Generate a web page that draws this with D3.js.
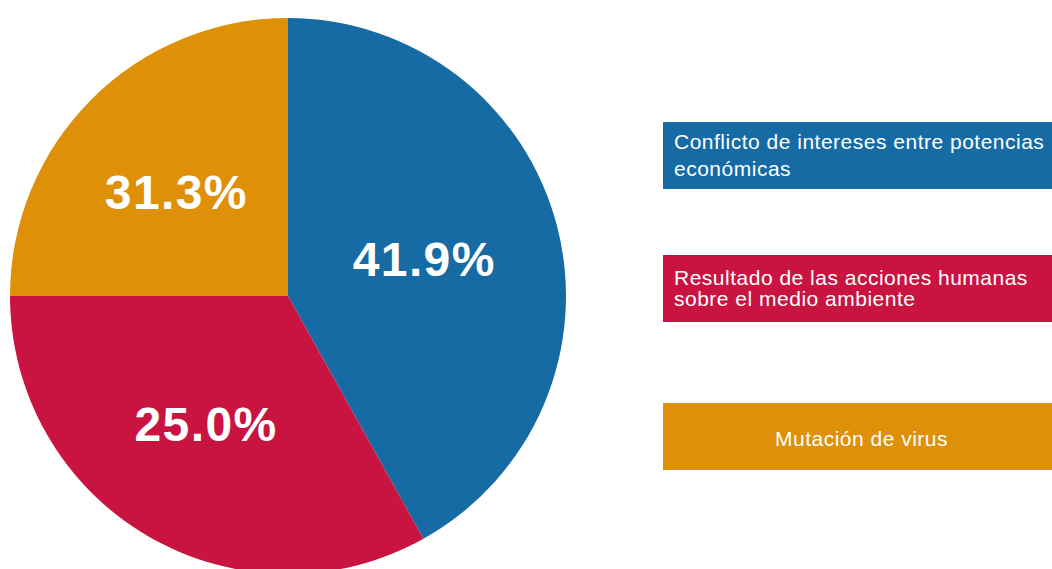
<!DOCTYPE html>
<html>
<head>
<meta charset="utf-8">
<script src="https://cdn.jsdelivr.net/npm/d3@7"></script>
<style>
  html, body { margin: 0; padding: 0; background: #fff; overflow: hidden; }
  svg { display: block; }
</style>
</head>
<body>
<div class="chart"></div>
<script>
// categories, shares and the printed labels
var categories = ['Conflicto de intereses entre potencias económicas',
                  'Resultado de las acciones humanas sobre el medio ambiente',
                  'Mutación de virus'];
var shares = [41.9, 33.1, 25.0];
var sliceLabels = ['41.9%', '25.0%', '31.3%'];
// legend text as it wraps in the boxes
var legendLines = [['Conflicto de intereses entre potencias', 'económicas'],
                   ['Resultado de las acciones humanas', 'sobre el medio ambiente'],
                   ['Mutación de virus']];
var colors = ['#166ba4', '#c91442', '#de9108'];

var width = 1052;
var height = 569;
var svg = d3.select('.chart').append('svg').attr('width', width).attr('height', height);

var cx = 288, cy = 296, radius = 278;

var pie = d3.pie().sort(null).value(function(d){ return d; });
var arc = d3.arc().innerRadius(0).outerRadius(radius);
var labelArc = d3.arc().innerRadius(148).outerRadius(148);

var g = svg.append('g').attr('transform', 'translate(' + cx + ',' + cy + ')');
var slices = pie(shares);

g.selectAll('path')
  .data(slices).enter()
  .append('path')
  .attr('d', arc)
  .attr('fill', function(d, i){ return colors[i]; });

g.selectAll('text')
  .data(slices).enter()
  .append('text')
  .attr('transform', function(d){
    var c = labelArc.centroid(d);
    return 'translate(' + (c[0] - 7) + ',' + c[1] + ')';
  })
  .attr('dy', '0.36em')
  .attr('text-anchor', 'middle')
  .attr('fill', '#fff')
  .style('font-family', '"Liberation Sans", Arial, sans-serif')
  .style('font-weight', 'bold')
  .style('font-size', '48px')
  .style('letter-spacing', '1.4px')
  .text(function(d, i){ return sliceLabels[i]; });

// legend boxes
var boxX = 663, boxW = 397, boxH = 67;
var boxTop = [122, 255, 403];

var legend = svg.selectAll('.legend')
  .data(categories).enter()
  .append('g')
  .attr('class', 'legend');

legend.append('rect')
  .attr('x', boxX)
  .attr('y', function(d, i){ return boxTop[i]; })
  .attr('width', boxW)
  .attr('height', boxH)
  .attr('fill', function(d, i){ return colors[i]; });

legend.each(function(d, i){
  var lines = legendLines[i];
  var single = lines.length === 1;
  // lines with accented letters were rendered with a taller line box
  var gaps = lines.slice(1).map(function(l){ return /[áéíóú]/.test(l) ? 26.5 : 21.5; });
  var total = d3.sum(gaps);
  var base = boxTop[i] + boxH / 2 - total / 2 + (single ? 9 : 7);
  var t = d3.select(this).append('text')
    .attr('fill', '#fff')
    .attr('text-anchor', single ? 'middle' : 'start')
    .style('font-family', '"Liberation Sans", Arial, sans-serif')
    .style('font-size', '21px')
    .style('letter-spacing', '0.5px');
  var y = base;
  lines.forEach(function(l, k){
    if (k > 0) y += gaps[k - 1];
    t.append('tspan')
      .attr('x', single ? boxX + boxW / 2 : boxX + 11)
      .attr('y', y)
      .text(l);
  });
});
</script>
</body>
</html>
